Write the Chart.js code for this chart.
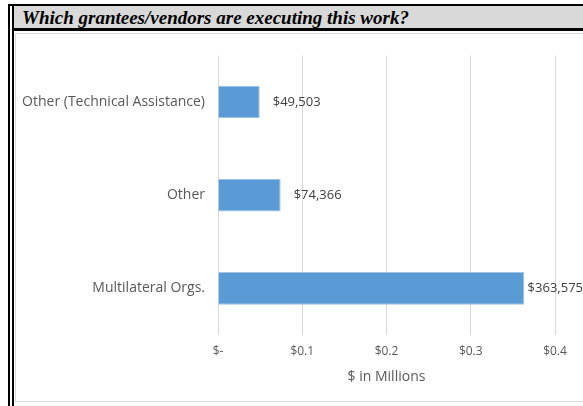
<!DOCTYPE html>
<html>
<head>
<meta charset="utf-8">
<script src="https://cdn.jsdelivr.net/npm/chart.js@4"></script>
<style>
  html, body { margin: 0; padding: 0; background: #fff; width: 583px; height: 406px; overflow: hidden; }
  .ln { position: absolute; background: #000; }
  .header {
    position: absolute; left: 14px; top: 6px; right: 0; height: 22px;
    background: #d9d9d9;
    font: italic bold 19px "Liberation Serif", "Times New Roman", serif;
    color: #000; line-height: 23px; padding-left: 8px; box-sizing: border-box;
    white-space: nowrap;
  }
  .box {
    position: absolute; left: 15px; top: 33px; width: 600px; height: 369px;
    border: 1px solid #d9d9d9; box-sizing: border-box;
  }
  #wrap { position: absolute; left: 16px; top: 34px; width: 567px; height: 368px; }
</style>
</head>
<body>
<div class="header">Which grantees/vendors are executing this work?</div>
<div class="ln" style="left:8px;top:4px;width:2px;height:402px"></div>
<div class="ln" style="left:12px;top:4px;width:2px;height:402px"></div>
<div class="ln" style="left:8px;top:4px;right:0;height:2px"></div>
<div class="ln" style="left:12px;top:28px;right:0;height:3px"></div>
<div class="box"></div>
<div id="wrap"><canvas id="chartVendors"></canvas></div>
<script>
(function () {
    'use strict';

    const categories = ['Other (Technical Assistance)', 'Other', 'Multilateral Orgs.'];
    const amounts    = [49503, 74366, 363575];          // dollars
    const xTicks     = ['$-', '$0.1', '$0.2', '$0.3', '$0.4'];

    const BAR   = '#5B9BD5';
    const TEXT  = '#595959';
    const GRID  = '#d9d9d9';
    const FONT  = '"Open Sans", "Liberation Sans", sans-serif';

    // value labels at the end of each bar, kept inside the canvas
    const endLabels = {
        id: 'endLabels',
        afterDatasetsDraw(chart) {
            const ctx = chart.ctx;
            const meta = chart.getDatasetMeta(0);
            ctx.save();
            ctx.font = '13px ' + FONT;
            ctx.fillStyle = '#404040';
            ctx.textBaseline = 'middle';
            meta.data.forEach((bar, i) => {
                const txt = '$' + amounts[i].toLocaleString('en-US');
                const w = ctx.measureText(txt).width;
                const x = Math.min(bar.x + 13, chart.width - w);
                ctx.fillText(txt, x, bar.y);
            });
            ctx.restore();
        }
    };

    new Chart(document.getElementById('chartVendors'), {
        type: 'bar',
        data: {
            labels: categories,
            datasets: [{
                data: amounts.map(v => v / 1e6),
                backgroundColor: BAR,
                borderColor: '#9dc3e6',
                borderWidth: 1,
                barPercentage: 0.35,
                categoryPercentage: 1
            }]
        },
        options: {
            indexAxis: 'y',
            responsive: true,
            maintainAspectRatio: false,
            animation: false,
            layout: { padding: { top: 19, right: 28, left: 0, bottom: 0 } },
            plugins: {
                legend: { display: false },
                tooltip: { enabled: false }
            },
            scales: {
                x: {
                    min: 0,
                    max: 0.4,
                    ticks: {
                        stepSize: 0.1,
                        color: TEXT,
                        font: { family: FONT, size: 12 },
                        padding: 9,
                        callback: (v, i) => xTicks[i]
                    },
                    grid: { color: GRID, drawTicks: false },
                    border: { display: false },
                    title: {
                        display: true,
                        text: '$ in Millions',
                        color: TEXT,
                        font: { family: FONT, size: 14 },
                        padding: { top: 0, bottom: 17 }
                    },
                    afterFit(s) { s.height = 67; }
                },
                y: {
                    ticks: {
                        color: TEXT,
                        font: { family: FONT, size: 14 },
                        padding: 13
                    },
                    grid: { display: false, drawTicks: false },
                    border: { display: false },
                    afterFit(s) { s.width = 202; }
                }
            }
        },
        plugins: [endLabels]
    });
})();
</script>
</body>
</html>
